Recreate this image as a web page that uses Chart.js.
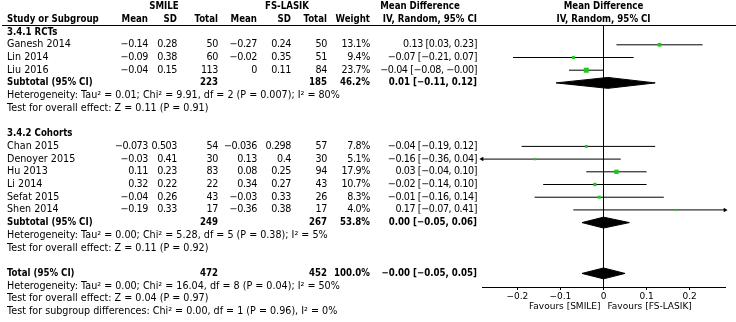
<!DOCTYPE html>
<html><head><meta charset="utf-8">
<script src="https://cdn.jsdelivr.net/npm/chart.js@4.4.0/dist/chart.umd.min.js"></script>
<style>html,body{margin:0;padding:0;background:#fff;overflow:hidden}</style>
</head><body>
<canvas id="c" width="736" height="322"></canvas>
<script>
// ---------- data ----------
const studies   = ['Ganesh 2014','Lin 2014','Liu 2016','Chan 2015','Denoyer 2015','Hu 2013','Li 2014','Sefat 2015','Shen 2014'];
const studyGroup = [0,0,0,1,1,1,1,1,1];
const smileMean = [-0.14,-0.09,-0.04,-0.073,-0.03,0.11,0.32,-0.04,-0.19];
const smileSD   = [0.28,0.38,0.15,0.503,0.41,0.23,0.22,0.26,0.33];
const smileN    = [50,60,113,54,30,83,22,43,17];
const lasikMean = [-0.27,-0.02,0,-0.036,0.13,0.08,0.34,-0.03,-0.36];
const lasikSD   = [0.24,0.35,0.11,0.298,0.4,0.25,0.27,0.33,0.38];
const lasikN    = [50,51,84,57,30,94,43,26,17];
const weights   = [13.1,9.4,23.7,7.8,5.1,17.9,10.7,8.3,4.0];
const meanDiff  = [0.13,-0.07,-0.04,-0.04,-0.16,0.03,-0.02,-0.01,0.17];
const ciLow     = [0.03,-0.21,-0.08,-0.19,-0.36,-0.04,-0.14,-0.16,-0.07];
const ciHigh    = [0.23,0.07,-0,0.12,0.04,0.10,0.10,0.14,0.41];

const groupNames   = ['3.4.1 RCTs','3.4.2 Cohorts'];
const groupSmileN  = [223,249];
const groupLasikN  = [185,267];
const groupWeight  = [46.2,53.8];
const groupMd      = [0.01,0.00];
const groupLow     = [-0.11,-0.05];
const groupHigh    = [0.12,0.06];
const groupHet  = ['Heterogeneity: Tau² = 0.01; Chi² = 9.91, df = 2 (P = 0.007); I² = 80%',
                   'Heterogeneity: Tau² = 0.00; Chi² = 5.28, df = 5 (P = 0.38); I² = 5%'];
const groupTest = ['Test for overall effect: Z = 0.11 (P = 0.91)',
                   'Test for overall effect: Z = 0.11 (P = 0.92)'];

const totalSmileN = [472];
const totalLasikN = [452];
const totalWeight = [100.0];
const totalMd   = [-0];
const totalLow  = [-0.05];
const totalHigh = [0.05];
const totalNotes = ['Heterogeneity: Tau² = 0.00; Chi² = 16.04, df = 8 (P = 0.04); I² = 50%',
                    'Test for overall effect: Z = 0.04 (P = 0.97)',
                    'Test for subgroup differences: Chi² = 0.00, df = 1 (P = 0.96), I² = 0%'];

const xTicks = [-0.2,-0.1,0,0.1,0.2];
const xTickLabels = ['−0.2','−0.1','0','0.1','0.2'];
const favourLabels = ['Favours [SMILE]','Favours [FS-LASIK]'];
const headerTop = ['SMILE','FS-LASIK','Mean Difference','Mean Difference'];
const headerCols = ['Study or Subgroup','Mean','SD','Total','Mean','SD','Total','Weight','IV, Random, 95% CI','IV, Random, 95% CI'];

// ---------- layout (rows) ----------
const AX_MIN = -0.282, AX_MAX = 0.282;
const rows = [];
let r = 0;
for (let g = 0; g < groupNames.length; g++) {
  rows.push({kind:'group', g, r: r++});
  studies.forEach((s, i) => { if (studyGroup[i] === g) rows.push({kind:'study', i, r: r++}); });
  rows.push({kind:'sub', g, r: r++});
  rows.push({kind:'het', g, r: r++});
  rows.push({kind:'test', g, r: r++});
  r++;
}
rows.push({kind:'total', r: r++});
totalNotes.forEach((t, k) => rows.push({kind:'note', k, r: r++}));
const rowOfStudy = i => rows.find(o => o.kind === 'study' && o.i === i).r;
const rowOfSub = g => rows.find(o => o.kind === 'sub' && o.g === g).r;
const rowOfTotal = rows.find(o => o.kind === 'total').r;

// ---------- formatting ----------
const neg = v => v < 0 || Object.is(v, -0);
const fmt = (v, d) => (neg(v) ? '−' : '') + Math.abs(v).toFixed(d);
const raw = v => (neg(v) && v !== 0 ? '−' : '') + String(Math.abs(v));
const ciText = (m, lo, hi) => `${fmt(m,2)} [${fmt(lo,2)}, ${fmt(hi,2)}]`;

// ---------- datasets ----------
const ciData = [];
studies.forEach((s, i) => {
  const y = rowOfStudy(i);
  ciData.push({x: ciLow[i], y}, {x: ciHigh[i], y}, {x: ciHigh[i], y: null});
});
const arrowData = [], arrowRot = [];
studies.forEach((s, i) => {
  const y = rowOfStudy(i);
  if (ciLow[i] < AX_MIN) { arrowData.push({x: AX_MIN, y}); arrowRot.push(-90); }
  if (ciHigh[i] > AX_MAX) { arrowData.push({x: AX_MAX, y}); arrowRot.push(90); }
});
const squareData = studies.map((s, i) => ({x: meanDiff[i], y: rowOfStudy(i)}));
const DH = 0.43;
const diamond = (m, lo, hi, y) => [{x: lo, y}, {x: m, y: y - DH}, {x: hi, y}, {x: m, y: y + DH}, {x: lo, y}];
const diamondSets = groupNames.map((n, g) => diamond(groupMd[g], groupLow[g], groupHigh[g], rowOfSub(g)));
diamondSets.push(diamond(totalMd[0], totalLow[0], totalHigh[0], rowOfTotal));

const GREEN = '#1ec81e';
const datasets = [
  {type:'line', data: squareData, showLine:false, pointStyle:'rect', backgroundColor: GREEN, borderColor: GREEN,
   borderWidth:0, pointBorderWidth:0, pointRadius: ctx => Math.sqrt(weights[ctx.dataIndex]) * 0.73, order: 0},
  {type:'line', data: arrowData, showLine:false, pointStyle:'triangle', backgroundColor:'#000', borderColor:'#000',
   pointBorderWidth:0, pointRadius: 2.6, pointRotation: ctx => arrowRot[ctx.dataIndex], clip: false, order: 1},
  {type:'line', data: ciData, borderColor:'#000', borderWidth:1, pointRadius:0, spanGaps:false, tension:0, order: 2},
  ...diamondSets.map(d => ({type:'line', data: d, borderColor:'#000', borderWidth:1, backgroundColor:'#000',
    fill:'shape', pointRadius:0, tension:0, order: 1}))
];

// ---------- text plugin ----------
const FONT = "'DejaVu Sans', sans-serif";
const REG = `9.6px ${FONT}`;
const BOLD = `bold 9.6px 'DejaVu Sans Condensed', ${FONT}`;
const COLS = {name: 7, sm: 148, ssd: 177, sn: 218, lm: 257, lsd: 291, ln: 327, w: 370, ci: 477};

const tablePlugin = {
  id: 'table',
  afterDraw(chart) {
    const ctx = chart.ctx, ys = chart.scales.y, xs = chart.scales.x, ca = chart.chartArea;
    const Y = v => ys.getPixelForValue(v);
    const txt = (s, x, y, align, bold, tight) => {
      ctx.font = bold ? BOLD : REG; ctx.textAlign = align;
      if ('letterSpacing' in ctx) ctx.letterSpacing = tight ? '-0.4px' : '0px';
      ctx.fillText(s, x, y);
    };
    ctx.save();
    ctx.fillStyle = '#000';
    ctx.textBaseline = 'middle';
    const x0 = xs.getPixelForValue(0);
    const yH1 = Y(-2), yH2 = Y(-1);
    txt(headerTop[0], 164, yH1, 'center', true);
    txt(headerTop[1], 287, yH1, 'center', true);
    txt(headerTop[2], 420, yH1, 'center', true);
    txt(headerTop[3], x0, yH1, 'center', true);
    txt(headerCols[0], COLS.name, yH2, 'left', true);
    const hx = [COLS.sm, COLS.ssd, COLS.sn, COLS.lm, COLS.lsd, COLS.ln, COLS.w, COLS.ci];
    hx.forEach((x, k) => txt(headerCols[k+1], x, yH2, 'right', true));
    txt(headerCols[9], x0, yH2, 'center', true);
    ctx.strokeStyle = '#000'; ctx.lineWidth = 1;
    ctx.beginPath(); ctx.moveTo(2, Math.round(ca.top) + 0.5); ctx.lineTo(chart.width, Math.round(ca.top) + 0.5); ctx.stroke();
    rows.forEach(o => {
      const y = Y(o.r);
      if (o.kind === 'group') txt(groupNames[o.g], COLS.name, y, 'left', true);
      else if (o.kind === 'study') {
        const i = o.i;
        txt(studies[i], COLS.name, y, 'left', false);
        txt(raw(smileMean[i]), COLS.sm, y, 'right', false, true);
        txt(raw(smileSD[i]), COLS.ssd, y, 'right', false, true);
        txt(String(smileN[i]), COLS.sn, y, 'right', false, true);
        txt(raw(lasikMean[i]), COLS.lm, y, 'right', false, true);
        txt(raw(lasikSD[i]), COLS.lsd, y, 'right', false, true);
        txt(String(lasikN[i]), COLS.ln, y, 'right', false, true);
        txt(weights[i].toFixed(1) + '%', COLS.w, y, 'right', false, true);
        txt(ciText(meanDiff[i], ciLow[i], ciHigh[i]), COLS.ci, y, 'right', false, true);
      } else if (o.kind === 'sub') {
        const g = o.g;
        txt('Subtotal (95% CI)', COLS.name, y, 'left', true);
        txt(String(groupSmileN[g]), COLS.sn, y, 'right', true);
        txt(String(groupLasikN[g]), COLS.ln, y, 'right', true);
        txt(groupWeight[g].toFixed(1) + '%', COLS.w, y, 'right', true);
        txt(ciText(groupMd[g], groupLow[g], groupHigh[g]), COLS.ci, y, 'right', true);
      } else if (o.kind === 'het') txt(groupHet[o.g], COLS.name, y, 'left', false);
      else if (o.kind === 'test') txt(groupTest[o.g], COLS.name, y, 'left', false);
      else if (o.kind === 'total') {
        txt('Total (95% CI)', COLS.name, y, 'left', true);
        txt(String(totalSmileN[0]), COLS.sn, y, 'right', true);
        txt(String(totalLasikN[0]), COLS.ln, y, 'right', true);
        txt(totalWeight[0].toFixed(1) + '%', COLS.w, y, 'right', true);
        txt(ciText(totalMd[0], totalLow[0], totalHigh[0]), COLS.ci, y, 'right', true);
      } else if (o.kind === 'note') txt(totalNotes[o.k], COLS.name, y, 'left', false);
    });
    if ('letterSpacing' in ctx) ctx.letterSpacing = '0px';
    ctx.font = `9px ${FONT}`;
    const yF = ca.bottom + 20;
    ctx.textAlign = 'right'; ctx.fillText(favourLabels[0], x0 - 3, yF);
    ctx.textAlign = 'left'; ctx.fillText(favourLabels[1], x0 + 4, yF);
    ctx.restore();
  }
};

new Chart(document.getElementById('c'), {
  type: 'line',
  data: { datasets },
  options: {
    responsive: false, animation: false, devicePixelRatio: 1,
    layout: { padding: { left: 482, right: 11, top: 25, bottom: 0 } },
    plugins: { legend: { display: false }, tooltip: { enabled: false } },
    scales: {
      x: {
        type: 'linear', min: AX_MIN, max: AX_MAX,
        afterBuildTicks: s => { s.ticks = xTicks.map(v => ({value: v})); },
        afterFit: s => { s.height = 35; },
        ticks: { callback: v => xTickLabels[xTicks.indexOf(v)], color: '#000', font: { family: "'DejaVu Sans'", size: 9 }, padding: 1, maxRotation: 0, autoSkip: false },
        grid: { display: true, drawOnChartArea: true, lineWidth: 1,
                color: c => (c.tick && c.tick.value === 0) ? '#000' : 'rgba(0,0,0,0)',
                tickColor: '#000', tickLength: 3 },
        border: { display: true, color: '#000', width: 1 }
      },
      y: { type: 'linear', display: false, reverse: true, min: -0.559, max: 20.07 }
    }
  },
  plugins: [tablePlugin]
});
</script>
</body></html>
